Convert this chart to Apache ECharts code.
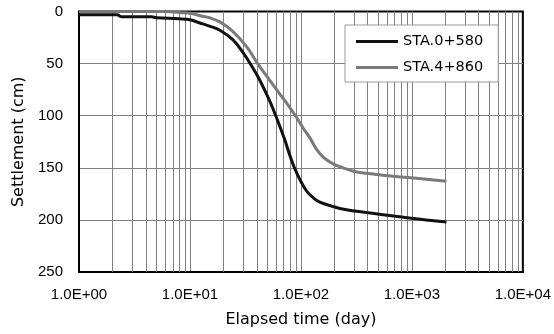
<!DOCTYPE html>
<html>
<head>
<meta charset="utf-8">
<script src="https://cdn.jsdelivr.net/npm/echarts@6/dist/echarts.min.js"></script>
<style>html,body{margin:0;padding:0;background:#fff}#c{width:554px;height:334px}</style>
</head>
<body>
<div id="c"></div>
<script>
const seriesNames = ['STA.0+580', 'STA.4+860'];
const sta0580 = [[1,3],[2.2,3],[2.4,5],[4.5,5],[5,6],[8,7],[10,8],[12.3,11],[15,14],[18.6,18],[24.3,27],[29.9,39],[36.8,54],[42.6,66],[52.4,86],[61.8,105],[71.5,123],[80,139],[91.7,155],[112,172],[130,179],[148,183],[193,187],[250,190],[391,193],[775,197],[1100,199],[2050,202]];
const sta4860 = [[1,0],[6,0],[8,1],[10.4,2],[12.3,4],[15,6],[18.6,10],[24.3,19],[32.5,34],[40.8,50],[52.4,66],[64.4,79],[78,91],[91.7,102],[105,112],[120,121],[138,132],[160,140],[193,146],[240,150],[318,154],[450,156],[670,158],[1100,160],[2050,163]];
const minorX = [2,3,4,5,6,7,8,9,20,30,40,50,60,70,80,90,200,300,400,500,600,700,800,900,2000,3000,4000,5000,6000,7000,8000,9000];
const yTicks = [0,50,100,150,200,250];

const chart = echarts.init(document.getElementById('c'), null, {renderer:'canvas'});
const gridColor = '#808080';
chart.setOption({
  animation: false,
  backgroundColor: '#fff',
  grid: {left: 79, right: 30.5, top: 11.5, bottom: 62, show: true, borderColor: '#000', borderWidth: 2, backgroundColor: 'transparent'},
  legend: {
    orient: 'vertical', left: 345, top: 25, z: 20,
    data: seriesNames,
    itemWidth: 42, itemHeight: 3, itemGap: 11,
    icon: 'rect',
    padding: [9, 15, 7, 11],
    backgroundColor: '#fff', borderColor: '#999', borderWidth: 1,
    textStyle: {fontFamily: 'DejaVu Sans', fontSize: 14.5, color: '#000'}
  },
  xAxis: {
    type: 'log', logBase: 10, min: 1, max: 10000,
    name: 'Elapsed time (day)', nameLocation: 'middle', nameGap: 40,
    nameTextStyle: {fontFamily: 'DejaVu Sans', fontSize: 16, color: '#000'},
    axisLine: {show: true, onZero: false, lineStyle: {color: '#000', width: 2}},
    axisTick: {show: false},
    axisLabel: {
      margin: 15, color: '#000', fontFamily: 'Liberation Sans', fontSize: 15,
      formatter: v => { const e = Math.round(Math.log10(v)); return '1.0E+' + (e < 10 ? '0' + e : e); }
    },
    splitLine: {show: true, showMinLine: false, showMaxLine: false, lineStyle: {color: gridColor, width: 1}}
  },
  yAxis: {
    type: 'value', inverse: true, min: 0, max: 250, interval: 50,
    name: 'Settlement (cm)', nameLocation: 'middle', nameGap: 52, nameRotate: 90,
    nameTextStyle: {fontFamily: 'DejaVu Sans', fontSize: 16, color: '#000'},
    axisLine: {show: true, lineStyle: {color: '#000', width: 2}},
    axisTick: {show: false},
    axisLabel: {margin: 16, color: '#000', fontFamily: 'Liberation Sans', fontSize: 15},
    splitLine: {show: true, showMinLine: false, showMaxLine: false, lineStyle: {color: gridColor, width: 1}}
  },
  series: [
    {
      name: '_minor', type: 'line', data: [], z: 1, silent: true,
      markLine: {
        silent: true, symbol: 'none', animation: false, z: 1,
        label: {show: false},
        emphasis: {disabled: true},
        lineStyle: {color: gridColor, width: 1, type: 'solid'},
        data: minorX.map(v => ({xAxis: v}))
      }
    },
    {
      name: seriesNames[0], type: 'line', data: sta0580, z: 3,
      showSymbol: false, symbol: 'none', smooth: 0.4,
      lineStyle: {color: '#111', width: 3}, itemStyle: {color: '#111'}
    },
    {
      name: seriesNames[1], type: 'line', data: sta4860, z: 3,
      showSymbol: false, symbol: 'none', smooth: 0.4,
      lineStyle: {color: '#7a7a7a', width: 3}, itemStyle: {color: '#7a7a7a'}
    }
  ]
});
</script>
</body>
</html>
